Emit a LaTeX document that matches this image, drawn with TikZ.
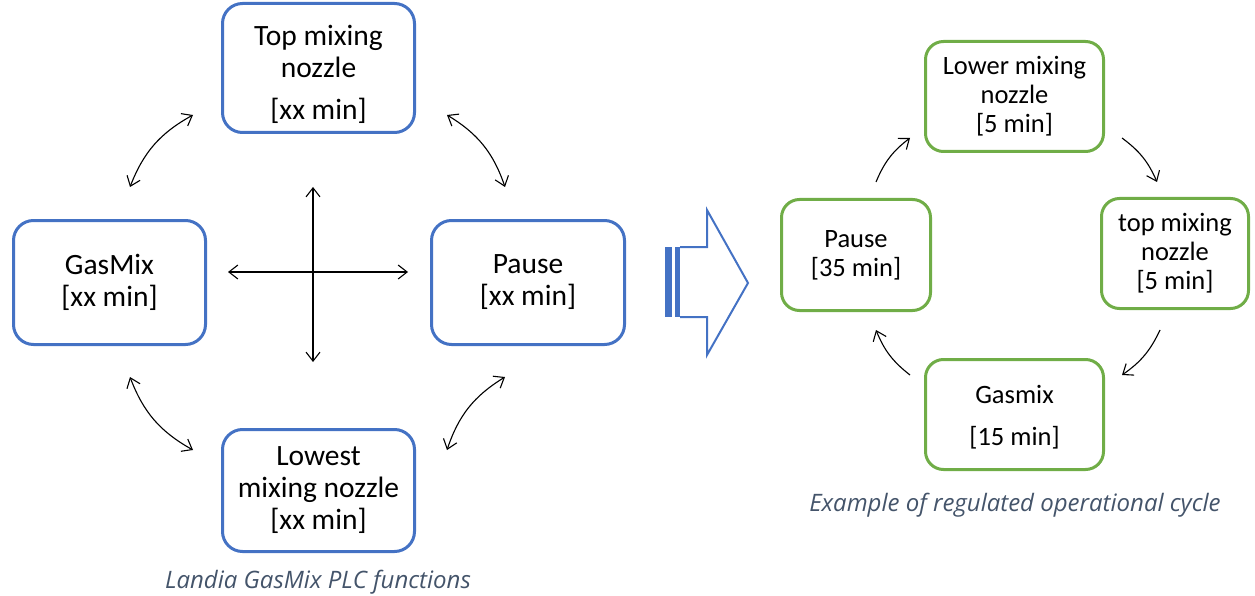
\documentclass[tikz,border=0pt]{standalone}
\usepackage{fontspec}
\setmainfont{Carlito}
\newfontfamily\capfont{Open Sans}
\usetikzlibrary{arrows.meta}
\definecolor{bbox}{HTML}{4472C4}
\definecolor{gbox}{HTML}{70AD47}
\definecolor{capc}{HTML}{44546A}
\begin{document}
\begin{tikzpicture}[x=1pt,y=-1pt,
  bluebox/.style={draw=bbox,line width=3pt,rounded corners=20pt,align=center,
    font=\fontsize{29.5}{32}\selectfont,inner sep=0pt},
  greenbox/.style={draw=gbox,line width=3pt,rounded corners=18pt,align=center,
    font=\fontsize{26.5}{29}\selectfont,inner sep=0pt},
  dbl/.style={line width=1.1pt,{Straight Barb[length=9pt,width=14pt]}-{Straight Barb[length=9pt,width=14pt]}},
  sgl/.style={line width=1.1pt,-{Straight Barb[length=9pt,width=14pt]}},
  captext/.style={font=\capfont\itshape\fontsize{24}{28}\selectfont,text=capc}]
\useasboundingbox (0,0) rectangle (1255,596);
% blue boxes
\node[bluebox,minimum width=192pt,minimum height=129pt] (top) at (318.5,68) {\rule{0pt}{33pt}Top mixing\\nozzle\\[10pt]{[xx min]}};
\node[bluebox,minimum width=192pt,minimum height=124pt] (gas) at (109.5,282.5) {GasMix\\{}{[xx min]}};
\node[bluebox,minimum width=193pt,minimum height=124pt] (pause) at (528,282.5) {Pause\\{}{[xx min]}};
\node[bluebox,minimum width=192pt,minimum height=122pt] (low) at (318.5,490.5) {Lowest\\mixing nozzle\\{}{[xx min]}};
% cross arrows
\coordinate (vt) at (313,187); \coordinate (vb) at (313,362);
\coordinate (hl) at (228,272); \coordinate (hr) at (408,272);
\draw[dbl] (vt) -- (vb);
\draw[dbl] (hl) -- (hr);
% curved double arrows
\coordinate (a1) at (130,187); \coordinate (a2) at (193,115);
\coordinate (b1) at (447,115); \coordinate (b2) at (505,187);
\coordinate (c1) at (130,377); \coordinate (c2) at (193,450);
\coordinate (d1) at (505,377); \coordinate (d2) at (447,450);
\draw[dbl] (a1) to[bend left=20] (a2);
\draw[dbl] (b1) to[bend left=20] (b2);
\draw[dbl] (c1) to[bend right=20] (c2);
\draw[dbl] (d1) to[bend right=20] (d2);
\node[captext] (cap1) at (318,582) {Landia GasMix PLC functions};
% block arrow
\fill[bbox] (665,247) rectangle (672,317);
\fill[bbox] (675,247) rectangle (680,317);
\draw[bbox,line width=2pt,line join=miter] (680,247) -- (707,247) -- (707,210) -- (748,283) -- (707,355) -- (707,317) -- (680,317);
% green boxes
\node[greenbox,minimum width=178pt,minimum height=110pt] (glow) at (1014.5,96.5) {Lower mixing\\nozzle\\{}{[5 min]}};
\node[greenbox,minimum width=147pt,minimum height=110pt] (gtop) at (1175,253.5) {top mixing\\nozzle\\{}{[5 min]}};
\node[greenbox,minimum width=149pt,minimum height=111pt] (gpause) at (856,255) {Pause\\{}{[35 min]}};
\node[greenbox,minimum width=178pt,minimum height=110pt] (ggas) at (1014.5,414.5) {\rule{0pt}{24pt}Gasmix\\[13pt]{[15 min]}};
\coordinate (e1) at (876,182); \coordinate (e2) at (910,138);
\coordinate (f1) at (1122,138); \coordinate (f2) at (1157,182);
\coordinate (g1) at (1160,330); \coordinate (g2) at (1122,375);
\coordinate (h1) at (910,375); \coordinate (h2) at (876,330);
\draw[sgl] (e1) to[bend left=15] (e2);
\draw[sgl] (f1) to[bend left=15] (f2);
\draw[sgl] (g1) to[bend left=15] (g2);
\draw[sgl] (h1) to[bend left=15] (h2);
\node[captext] (cap2) at (1015,505) {Example of regulated operational cycle};
\end{tikzpicture}
\end{document}
